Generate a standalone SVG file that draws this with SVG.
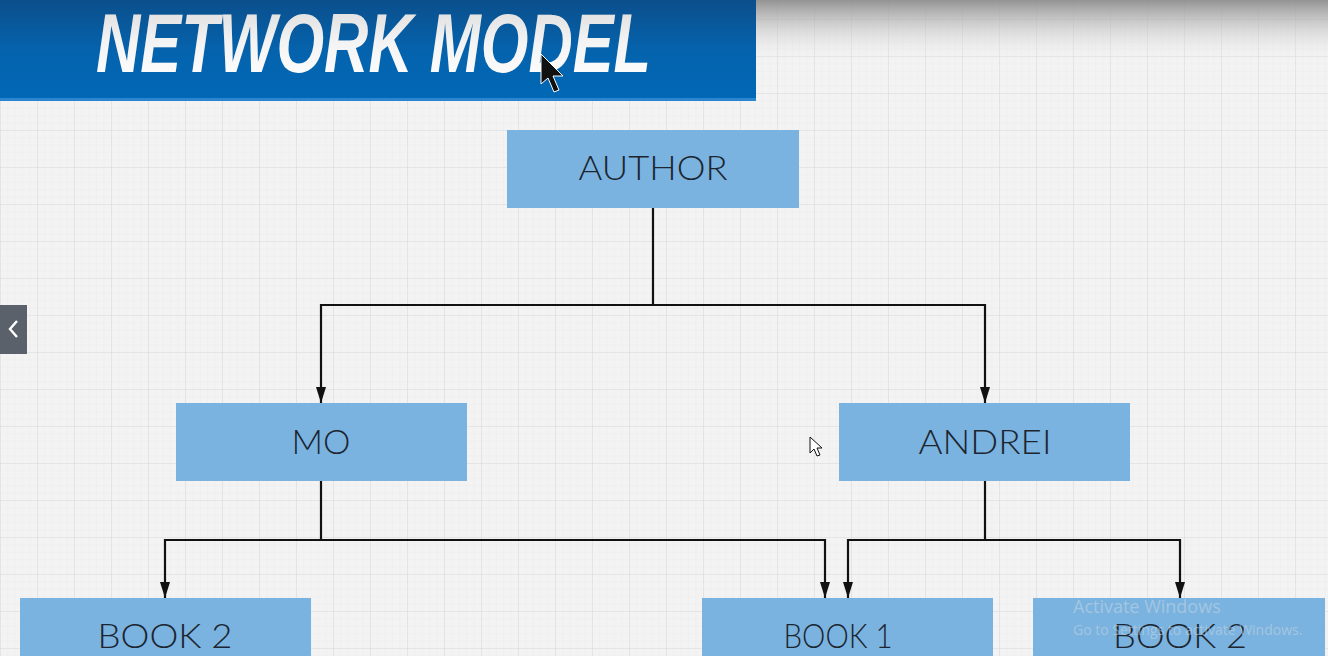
<svg xmlns="http://www.w3.org/2000/svg" width="1328" height="656" viewBox="0 0 1328 656">
<defs>
<pattern id="minor" x="0" y="19" width="7.4" height="7.4" patternUnits="userSpaceOnUse">
<path d="M0 0H7.4M0 0V7.4" stroke="#e6e6e6" stroke-width="0.6" fill="none"/>
</pattern>
<pattern id="major" x="0" y="19" width="37" height="37" patternUnits="userSpaceOnUse">
<path d="M0 0H37M0 0V37" stroke="#dcdcdc" stroke-width="1.2" fill="none"/>
</pattern>
<linearGradient id="topfade" x1="0" y1="0" x2="0" y2="1">
<stop offset="0" stop-color="#8e8e8e" stop-opacity="0.95"/>
<stop offset="1" stop-color="#f3f3f3" stop-opacity="0"/>
</linearGradient>
<linearGradient id="banner" x1="0" y1="0" x2="0" y2="1">
<stop offset="0" stop-color="#0b4f8c"/>
<stop offset="0.5" stop-color="#0563ad"/>
<stop offset="1" stop-color="#0068b6"/>
</linearGradient>
<linearGradient id="titlefill" x1="0" y1="0" x2="0" y2="1">
<stop offset="0" stop-color="#d8d8d8"/>
<stop offset="0.5" stop-color="#f4f4f4"/>
<stop offset="1" stop-color="#ffffff"/>
</linearGradient>
<marker id="arr" viewBox="0 0 16 10" refX="16" refY="5" markerWidth="16" markerHeight="10" markerUnits="userSpaceOnUse" orient="auto">
<path d="M0 0L16 5L0 10Z" fill="#111"/>
</marker>
<style>
.node rect{fill:#7ab3df;}
.node text{font-family:Lato,"Open Sans","Liberation Sans",sans-serif;font-size:34px;fill:#1c2530;text-anchor:middle;font-weight:300;}
.conn path{fill:none;stroke:#111;stroke-width:2.2;}
</style>
</defs>
<rect width="1328" height="656" fill="#f3f3f3"/>
<rect width="1328" height="656" fill="url(#minor)"/>
<rect width="1328" height="656" fill="url(#major)"/>
<rect x="700" y="0" width="628" height="62" fill="url(#topfade)"/>

<g id="title">
<rect x="0" y="0" width="756" height="101" fill="url(#banner)"/>
<rect x="0" y="98" width="756" height="3" fill="#2a86d0"/>
<text x="96" y="72" font-family="'Liberation Sans',Arial,sans-serif" font-size="84" font-weight="bold" font-style="italic" fill="url(#titlefill)" textLength="555" lengthAdjust="spacingAndGlyphs">NETWORK MODEL</text>
</g>

<g id="nav-button">
<rect x="0" y="305" width="27" height="49" fill="#5b616a"/>
<path d="M17 321L10 329L17 337" fill="none" stroke="#fff" stroke-width="2.4"/>
</g>

<g class="conn" id="connectors">
<path d="M653 208V305H321V403" marker-end="url(#arr)"/>
<path d="M653 305H985V403" marker-end="url(#arr)"/>
<path d="M321 481V540H165V598" marker-end="url(#arr)"/>
<path d="M321 540H825V598" marker-end="url(#arr)"/>
<path d="M985 481V540H848V598" marker-end="url(#arr)"/>
<path d="M985 540H1180V598" marker-end="url(#arr)"/>
</g>

<g class="node" id="author">
<rect x="507" y="130" width="292" height="78"/>
<text x="653" y="180" textLength="149" lengthAdjust="spacingAndGlyphs">AUTHOR</text>
</g>
<g class="node" id="mo">
<rect x="176" y="403" width="291" height="78"/>
<text x="321" y="454" textLength="59" lengthAdjust="spacingAndGlyphs">MO</text>
</g>
<g class="node" id="andrei">
<rect x="839" y="403" width="291" height="78"/>
<text x="985" y="454" textLength="133" lengthAdjust="spacingAndGlyphs">ANDREI</text>
</g>
<g class="node" id="book2-left">
<rect x="20" y="598" width="291" height="62"/>
<text x="165" y="648" textLength="135" lengthAdjust="spacingAndGlyphs">BOOK 2</text>
</g>
<g class="node" id="book1">
<rect x="702" y="598" width="291" height="62"/>
<text x="838" y="648" textLength="109" lengthAdjust="spacingAndGlyphs">BOOK 1</text>
</g>
<g class="node" id="book2-right">
<rect x="1033" y="598" width="292" height="62"/>
<text x="1180" y="648" textLength="134" lengthAdjust="spacingAndGlyphs">BOOK 2</text>
</g>

<g id="watermark" font-family="'Segoe UI','Open Sans','Liberation Sans',sans-serif" fill="#c9d6e2" fill-opacity="0.55">
<text x="1073" y="613" font-size="18">Activate Windows</text>
<text x="1073" y="635" font-size="14">Go to Settings to activate Windows.</text>
</g>

<g id="cursors">
<path d="M541 54L541 84L548 78L554 92L559 90L553 76L563 76Z" fill="#111" stroke="#fff" stroke-width="1"/>
<path d="M810 437L810 453L814 449L817 456L820 455L817 448L822 448Z" fill="#fff" stroke="#111" stroke-width="1"/>
</g>
</svg>
